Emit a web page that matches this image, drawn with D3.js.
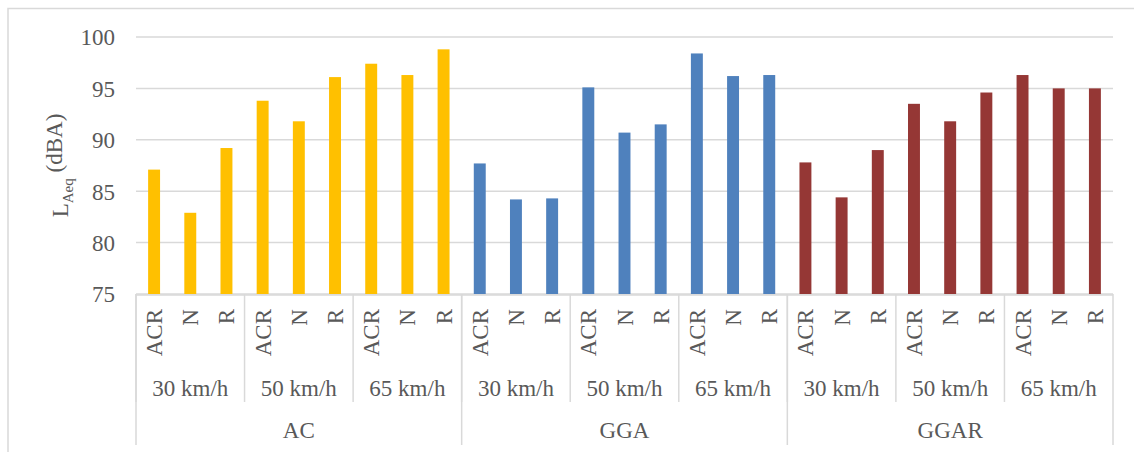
<!DOCTYPE html>
<html>
<head>
<meta charset="utf-8">
<script src="https://cdn.jsdelivr.net/npm/d3@7"></script>
<style>
    body { margin: 0; background: #fff; }
</style>
</head>
<body>
<div id="chart"></div>
<script>
const materials = ["AC", "GGA", "GGAR"];
const speeds = ["30 km/h", "50 km/h", "65 km/h"];
const tyres = ["ACR", "N", "R"];
const yTicks = [75, 80, 85, 90, 95, 100];

// LAeq per material, ordered speed then tyre
const acValues = [87.1, 82.9, 89.2, 93.8, 91.8, 96.1, 97.4, 96.3, 98.8];
const ggaValues = [87.7, 84.2, 84.3, 95.1, 90.7, 91.5, 98.4, 96.2, 96.3];
const ggarValues = [87.8, 84.4, 89.0, 93.5, 91.8, 94.6, 96.3, 95.0, 95.0];
const colors = ["#FFC000", "#4F81BD", "#953735"];

const width = 1134, height = 452;
const margin = { top: 37, right: 21, bottom: 158, left: 136 };
const fontFamily = "'Times New Roman', 'Liberation Serif', 'DejaVu Serif', serif";
const textColor = "#595959";

// flatten into one row per bar
const rows = [];
[acValues, ggaValues, ggarValues].forEach((vals, m) => {
    vals.forEach((v, i) => {
        rows.push({
            material: materials[m],
            speed: speeds[Math.floor(i / 3)],
            tyre: tyres[i % 3],
            value: v,
            color: colors[m],
            idx: rows.length
        });
    });
});

const svg = d3.select("#chart")
    .append("svg")
    .attr("width", width)
    .attr("height", height)
    .attr("font-family", fontFamily);

// chart frame
svg.append("rect")
    .attr("x", 8).attr("y", 8.5)
    .attr("width", width + 10).attr("height", height + 10)
    .attr("fill", "none")
    .attr("stroke", "#D9D9D9")
    .attr("stroke-width", 1.5);

const x0 = margin.left, x1 = width - margin.right;
const yBottom = height - margin.bottom;

const xScale = d3.scaleBand()
    .domain(rows.map(d => d.idx))
    .range([x0, x1])
    .paddingInner(0.67)
    .paddingOuter(0.335);

const yScale = d3.scaleLinear()
    .domain([75, 100])
    .range([yBottom, margin.top]);

const step = xScale.step();

// gridlines
svg.append("g")
    .selectAll("line")
    .data(yTicks)
    .enter().append("line")
    .attr("x1", x0).attr("x2", x1)
    .attr("y1", d => yScale(d)).attr("y2", d => yScale(d))
    .attr("stroke", "#D9D9D9")
    .attr("stroke-width", 1.5);

// y axis labels
const yAxis = svg.append("g")
    .attr("transform", "translate(" + (x0 - 21) + ",0)")
    .call(d3.axisLeft(yScale).tickValues(yTicks).tickSize(0).tickPadding(0));
yAxis.attr("font-family", fontFamily).attr("font-size", 23);
yAxis.select(".domain").remove();
yAxis.selectAll("text")
    .attr("fill", textColor)
    .attr("dy", "0.34em");

// bars
svg.selectAll(".bar")
    .data(rows)
    .enter().append("rect")
    .attr("class", "bar")
    .attr("x", d => xScale(d.idx))
    .attr("width", xScale.bandwidth())
    .attr("y", d => yScale(d.value))
    .attr("height", d => yScale(75) - yScale(d.value))
    .attr("fill", d => d.color);

// x axis line
svg.append("line")
    .attr("x1", x0).attr("x2", x1)
    .attr("y1", yBottom + 1).attr("y2", yBottom + 1)
    .attr("stroke", "#D9D9D9")
    .attr("stroke-width", 1.5);

// tyre labels (rotated)
svg.selectAll(".tyre")
    .data(rows)
    .enter().append("text")
    .attr("class", "tyre")
    .attr("transform", d => "translate(" + (xScale(d.idx) + xScale.bandwidth() / 2 + 8) + "," + (yBottom + 15) + ") rotate(-90)")
    .attr("text-anchor", "end")
    .attr("fill", textColor)
    .attr("font-size", 23)
    .text(d => d.tyre);

// speed group separators and labels
const speedGroups = [];
materials.forEach((m, mi) => speeds.forEach((s, si) => speedGroups.push({ label: s, start: (mi * 3 + si) * 3 })));

svg.selectAll(".speed-sep")
    .data(speedGroups)
    .enter().append("line")
    .attr("x1", d => x0 + d.start * step).attr("x2", d => x0 + d.start * step)
    .attr("y1", yBottom).attr("y2", yBottom + 108)
    .attr("stroke", "#D9D9D9")
    .attr("stroke-width", 1.5);

svg.selectAll(".speed")
    .data(speedGroups)
    .enter().append("text")
    .attr("x", d => x0 + (d.start + 1.5) * step)
    .attr("y", yBottom + 102)
    .attr("text-anchor", "middle")
    .attr("fill", textColor)
    .attr("font-size", 23)
    .text(d => d.label);

// material separators and labels
const matBounds = [0, 9, 18, 27];
svg.selectAll(".mat-sep")
    .data(matBounds)
    .enter().append("line")
    .attr("x1", d => x0 + d * step).attr("x2", d => x0 + d * step)
    .attr("y1", yBottom).attr("y2", yBottom + 151)
    .attr("stroke", "#D9D9D9")
    .attr("stroke-width", 1.5);

svg.selectAll(".mat")
    .data(materials)
    .enter().append("text")
    .attr("x", (d, i) => x0 + (i * 9 + 4.5) * step)
    .attr("y", yBottom + 144)
    .attr("text-anchor", "middle")
    .attr("fill", textColor)
    .attr("font-size", 23)
    .text(d => d);

// y axis title
const yTitle = svg.append("text")
    .attr("transform", "translate(68," + ((margin.top + yBottom) / 2) + ") rotate(-90)")
    .attr("text-anchor", "middle")
    .attr("fill", textColor)
    .attr("font-size", 23);
yTitle.append("tspan").text("L");
yTitle.append("tspan").attr("dy", "0.3em").attr("font-size", 15).text("Aeq");
yTitle.append("tspan").attr("dy", "-0.45em").text(" (dBA)");
</script>
</body>
</html>
